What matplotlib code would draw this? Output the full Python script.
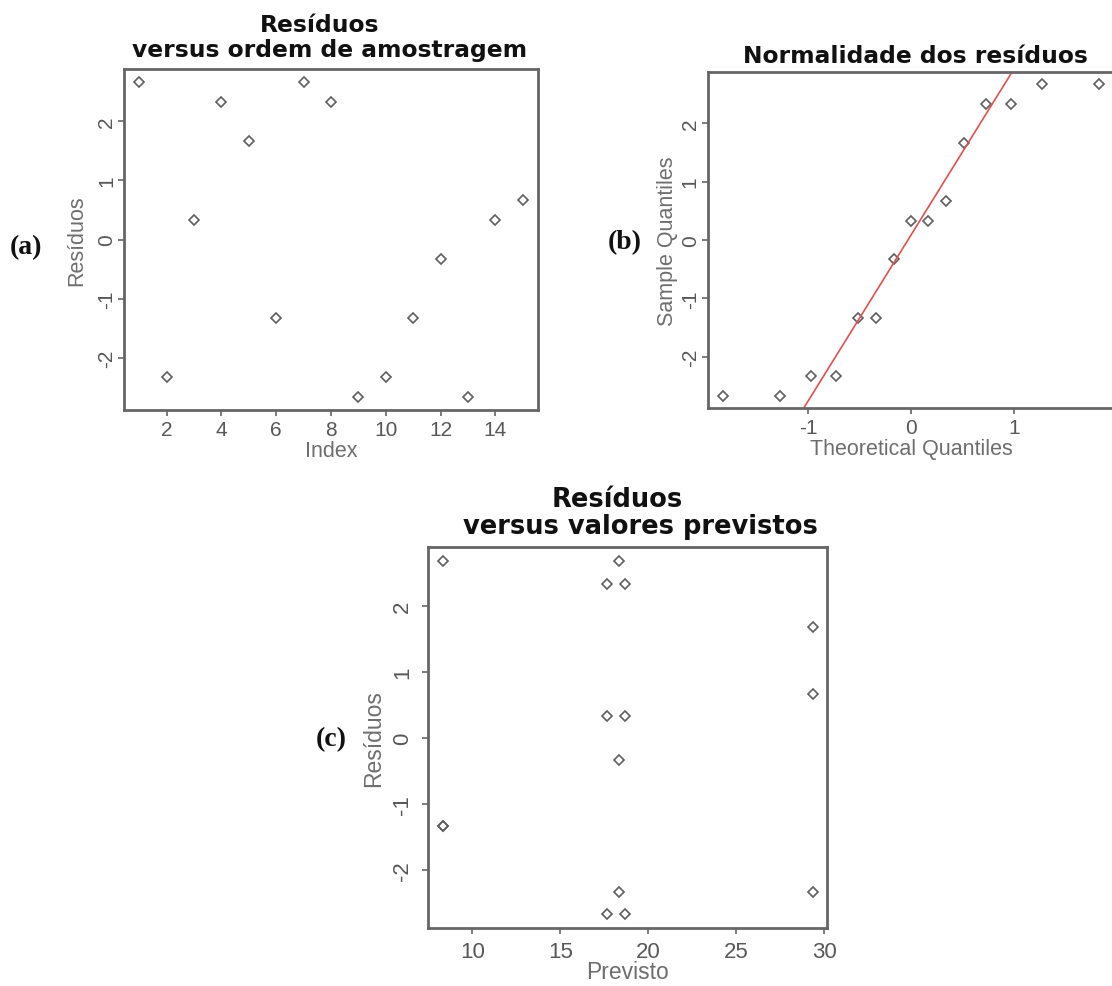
import numpy as np
import matplotlib
matplotlib.use("Agg")
import matplotlib.pyplot as plt

plt.rcParams['axes.unicode_minus'] = False

# ---- data ----
indice = np.arange(1, 16)
residuos = [2.67, -2.33, 0.33, 2.33, 1.67, -1.33, 2.67, 2.33,
            -2.67, -2.33, -1.33, -0.33, -2.67, 0.33, 0.67]
previsto = [8.33, 18.33, 17.67, 17.67, 29.33, 8.33, 18.33, 18.67,
            17.67, 29.33, 8.33, 18.33, 18.67, 18.67, 29.33]
quantis_teoricos = [-1.83, -1.28, -0.97, -0.73, -0.52, -0.34, -0.17, 0.0,
                    0.17, 0.34, 0.52, 0.73, 0.97, 1.28, 1.83]
xticks_a = [2, 4, 6, 8, 10, 12, 14]
xticks_b = [-1, 0, 1]
xticks_c = [10, 15, 20, 25, 30]
yticks = [-2, -1, 0, 1, 2]

W, H = 1112, 987
fig = plt.figure(figsize=(W / 100, H / 100), dpi=100)
fig.patch.set_facecolor('white')

def px_axes(l, t, r, b):
    return fig.add_axes([l / W, 1 - b / H, (r - l) / W, (b - t) / H])

axA = px_axes(124, 70, 538, 411)
axB = px_axes(708, 72.7, 1114, 409.3)
axC = px_axes(428.3, 548.3, 827.3, 929.3)

spine_col = '#666666'
tick_col = '#585858'
lab_col = '#6e6e6e'
mk_col = '#5e5e5e'

def style(ax, xt, xlabel, ylabel, tsize, lsize, xpad, ypad, xlpad, ylpad):
    for s in ax.spines.values():
        s.set_color(spine_col)
        s.set_linewidth(2.0)
    ax.set_xticks(xt)
    ax.set_yticks(yticks)
    ax.tick_params(axis='both', direction='out', length=4, width=1.2,
                   color=spine_col, labelcolor=tick_col, labelsize=tsize)
    ax.tick_params(axis='x', pad=xpad)
    ax.tick_params(axis='y', labelrotation=90, pad=ypad)
    for lb in ax.get_yticklabels():
        lb.set_va('center')
        lb.set_family('Liberation Sans')
    for lb in ax.get_xticklabels():
        lb.set_family('Liberation Sans')
    ax.set_xlabel(xlabel, family='Liberation Sans', fontsize=lsize,
                  color=lab_col, labelpad=xlpad)
    ax.set_ylabel(ylabel, family='Liberation Sans', fontsize=lsize,
                  color=lab_col, labelpad=ylpad)
    ax.margins(0.04)

mk = dict(marker='D', linestyle='none', markersize=5, markerfacecolor='none',
          markeredgecolor=mk_col, markeredgewidth=1.2)

# (a)
axA.plot(indice, residuos, **mk)
style(axA, xticks_a, 'Index', 'Resíduos', 15, 15.5, 3, 1.5, 1, 7)

# (b)
amostra = np.sort(residuos)
axB.plot(quantis_teoricos, amostra, **mk)
q1, q3 = np.percentile(residuos, [25, 75])
z = 0.6745
slope = (q3 - q1) / (2 * z)
intercept = q1 + z * slope
axB.axline((0, intercept), slope=slope, color='#e05050', linewidth=1.2)
style(axB, xticks_b, 'Theoretical Quantiles', 'Sample Quantiles', 15, 15.5, 3, 2, 1, 2)

# (c)
axC.plot(previsto, residuos, **mk)
style(axC, xticks_c, 'Previsto', 'Resíduos', 16, 16.5, 5, 7, -1, 5)

# titles (pixel placement)
tfont = dict(family='DejaVu Sans', weight='bold', color='#111111')
def ptext(x, y, s, **kw):
    fig.text(x / W, 1 - y / H, s, **kw)

ptext(320, 31.7, 'Resíduos', ha='center', va='baseline', fontsize=16.8, **tfont)
ptext(330, 57, 'versus ordem de amostragem', ha='center', va='baseline', fontsize=16.8, **tfont)
ptext(915, 63.3, 'Normalidade dos resíduos', ha='center', va='baseline', fontsize=16.8, **tfont)
ptext(617, 506.7, 'Resíduos', ha='center', va='baseline', fontsize=18.5, **tfont)
ptext(640, 534.5, 'versus valores previstos', ha='center', va='baseline', fontsize=18.5, **tfont)

pfont = dict(family='Liberation Serif', weight='bold', fontsize=20, color='#111111')
ptext(26, 248, '(a)', ha='center', va='center', **pfont)
ptext(625, 243, '(b)', ha='center', va='center', **pfont)
ptext(331, 740, '(c)', ha='center', va='center', **pfont)

fig.savefig('out.png', dpi=100, facecolor='white')
